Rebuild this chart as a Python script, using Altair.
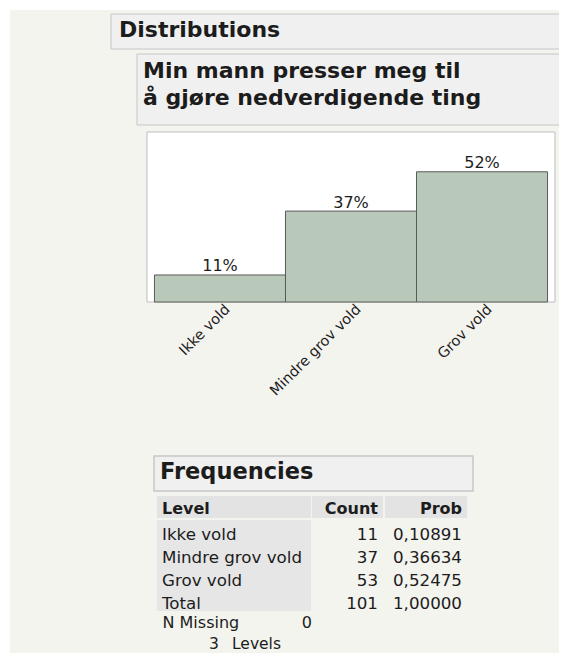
import altair as alt
import pandas as pd

# ---- data ----
levels = ["Ikke vold", "Mindre grov vold", "Grov vold"]
counts = [11, 37, 53]
probs = [0.10891, 0.36634, 0.52475]
total_count = 101
total_prob = 1.0
n_missing = 0
n_levels = 3
section_title = "Distributions"
var_title = ["Min mann presser meg til", "å gjøre nedverdigende ting"]
freq_title = "Frequencies"
table_headers = ["Level", "Count", "Prob"]

FONT = "DejaVu Sans"
TXT = "#1c1c1c"

bars = pd.DataFrame({"level": levels, "count": counts, "prob": probs})

def fmt(p):
    return f"{p:.5f}".replace(".", ",")

rows = pd.DataFrame({
    "i": list(range(len(levels) + 1)),
    "level": levels + ["Total"],
    "count": [str(c) for c in counts] + [str(total_count)],
    "prob": [fmt(p) for p in probs] + [fmt(total_prob)],
})

one = alt.Data(values=[{"k": 1}])

def box(x, x2, y, y2, fill, stroke=None, sw=1):
    kw = dict(fill=fill)
    if stroke:
        kw.update(stroke=stroke, strokeWidth=sw)
    else:
        kw.update(strokeWidth=0)
    return alt.Chart(one).mark_rect(**kw).encode(
        x=alt.value(x), x2=alt.value(x2), y=alt.value(y), y2=alt.value(y2))

def label(text, x, y, size, bold=False, align="left"):
    return alt.Chart(one).mark_text(
        text=text, font=FONT, fontSize=size, fontWeight="bold" if bold else "normal",
        align=align, baseline="alphabetic", color=TXT
    ).encode(x=alt.value(x), y=alt.value(y))

# backgrounds & header boxes
bg = box(-137, 420, -122, 529, "#f4f4ef")
dist_box = box(-36, 440, -118, -83, "#f0f0f0", "#c6c6c6")
dist_txt = label(section_title, -28, -95, 22, bold=True)
title_box = box(-10, 416, -78, -7, "#f0f0f0", "#c6c6c6")
title_l1 = label(var_title[0], -4, -54, 22, bold=True)
title_l2 = label(var_title[1], -4, -27, 22, bold=True)
frame = box(0, 408, 0, 170, "white", "#bdbdbd")

xenc = alt.X("level:N", sort=levels, title=None,
             scale=alt.Scale(paddingInner=0, paddingOuter=0.057),
             axis=alt.Axis(labelAngle=-45, labelAlign="right", labelBaseline="middle",
                           labelPadding=5, labelOffset=8, domain=False, ticks=False,
                           grid=False, labelFont=FONT, labelFontSize=14.5,
                           labelColor=TXT, labelLimit=300, zindex=2))
yenc = alt.Y("prob:Q", scale=alt.Scale(domain=[0, 0.685], nice=False, zero=True),
             axis=None)

bar_layer = alt.Chart(bars).mark_bar(fill="#b9c9b9", stroke="#5a5a5a", strokeWidth=1).encode(
    x=xenc, y=yenc)
bar_text = alt.Chart(bars).mark_text(
    font=FONT, fontSize=16, baseline="alphabetic", dy=-3.5, color=TXT
).encode(x=alt.X("level:N", sort=levels), y=yenc, text=alt.Text("prob:Q", format=".0%"))

# frequencies table
freq_box = box(7, 326, 324, 359, "#f0f0f0", "#c6c6c6", 1.5)
freq_txt = label(freq_title, 13, 347, 22.5, bold=True)
h_level = box(10, 164, 364, 386, "#e3e3e3")
h_count = box(165, 236, 364, 386, "#e3e3e3")
h_prob = box(238, 320, 364, 386, "#e3e3e3")
body_level = box(10, 164, 388, 479, "#e6e6e6")
ht1 = label(table_headers[0], 15, 382, 16, bold=True)
ht2 = label(table_headers[1], 231, 382, 16, bold=True, align="right")
ht3 = label(table_headers[2], 315, 382, 16, bold=True, align="right")

base_rows = alt.Chart(rows).transform_calculate(py="407.5 + datum.i * 23")
ypix = alt.Y("py:Q", scale=None, axis=None)
col_level = base_rows.mark_text(font=FONT, fontSize=16.7, align="left", baseline="alphabetic",
                                color=TXT).encode(x=alt.value(15), y=ypix, text="level:N")
col_count = base_rows.mark_text(font=FONT, fontSize=16.7, align="right", baseline="alphabetic",
                                color=TXT).encode(x=alt.value(231), y=ypix, text="count:N")
col_prob = base_rows.mark_text(font=FONT, fontSize=16.7, align="right", baseline="alphabetic",
                               color=TXT).encode(x=alt.value(315), y=ypix, text="prob:N")

miss_lbl = label("N Missing", 15.5, 496, 16)
miss_val = label(str(n_missing), 165, 496, 16, align="right")
lev_num = label(str(n_levels), 62, 517, 15.5)
lev_lbl = label("Levels", 85, 517, 15.5)

chart = alt.layer(
    bg, dist_box, dist_txt, title_box, title_l1, title_l2, frame,
    bar_layer, bar_text,
    freq_box, freq_txt, h_level, h_count, h_prob, body_level, ht1, ht2, ht3,
    col_level, col_count, col_prob, miss_lbl, miss_val, lev_num, lev_lbl,
).properties(
    width=408, height=170,
    autosize=alt.AutoSizeParams(type="none"),
    padding={"left": 139, "top": 124, "right": 4, "bottom": 351},
    background="white",
).configure_view(strokeWidth=0)

chart.save("out.html", embed_options={"renderer": "svg", "actions": False})
